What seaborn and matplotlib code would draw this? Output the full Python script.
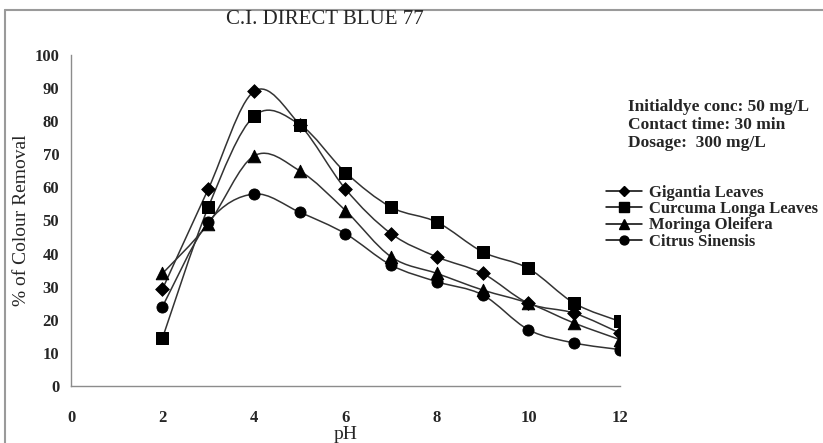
import numpy as np
import pandas as pd
import matplotlib
matplotlib.use("Agg")
import matplotlib.pyplot as plt
from matplotlib.path import Path
from matplotlib.patches import PathPatch
from matplotlib.lines import Line2D
import seaborn as sns

# data
ph = [2, 3, 4, 5, 6, 7, 8, 9, 10, 11, 12]
gigantia = [29.3, 59.5, 89.0, 79.0, 59.5, 46.0, 39.0, 34.0, 25.0, 22.0, 16.0]
curcuma = [14.5, 54.0, 81.5, 79.0, 64.5, 54.0, 49.5, 40.5, 35.5, 25.0, 19.5]
moringa = [34.0, 49.0, 69.5, 65.0, 53.0, 39.0, 34.0, 29.0, 25.0, 19.0, 14.0]
citrus = [24.0, 49.5, 58.0, 52.5, 46.0, 36.5, 31.5, 27.5, 17.0, 13.0, 11.0]

series_names = ["Gigantia Leaves", "Curcuma Longa Leaves", "Moringa Oleifera", "Citrus Sinensis"]
series_vals = [gigantia, curcuma, moringa, citrus]
markers = ["D", "s", "^", "o"]
msizes = [7, 9, 9, 8]

df = pd.concat([pd.DataFrame({"pH": ph, "Removal": v, "Adsorbent": n})
                for n, v in zip(series_names, series_vals)], ignore_index=True)

sns.set_theme(style="white")
plt.rcParams["font.family"] = ["Liberation Serif", "DejaVu Serif"]

fig = plt.figure(figsize=(8.23, 4.43), dpi=100)
ax = fig.add_axes([71 / 823, 1 - 386 / 443, (620 - 71) / 823, (386 - 55) / 443])


def smooth_path(x, y):
    # Excel-like smoothed line: cubic Bezier segments through the data points
    x = np.asarray(x, float)
    y = np.asarray(y, float)
    n = len(x)
    verts = [(x[0], y[0])]
    codes = [Path.MOVETO]
    for i in range(n - 1):
        p0 = i - 1 if i > 0 else i
        p3 = i + 2 if i + 2 < n else i + 1
        c1 = (x[i] + (x[i + 1] - x[p0]) / 6, y[i] + (y[i + 1] - y[p0]) / 6)
        c2 = (x[i + 1] - (x[p3] - x[i]) / 6, y[i + 1] - (y[p3] - y[i]) / 6)
        verts += [c1, c2, (x[i + 1], y[i + 1])]
        codes += [Path.CURVE4] * 3
    return Path(verts, codes)


for name, m, ms in zip(series_names, markers, msizes):
    sub = df[df["Adsorbent"] == name]
    ax.add_patch(PathPatch(smooth_path(sub["pH"], sub["Removal"]), facecolor="none",
                           edgecolor="#333333", lw=1.1, zorder=2))
    sns.scatterplot(data=sub, x="pH", y="Removal", marker=m, s=ms ** 2, color="black",
                    edgecolor="black", ax=ax, zorder=3, legend=False)

ax.set_xlim(0, 12)
ax.set_ylim(0, 100)
ax.set_xticks(range(0, 13, 2))
ax.set_yticks(range(0, 101, 10))
for s in ["top", "right"]:
    ax.spines[s].set_visible(False)
for s in ["left", "bottom"]:
    ax.spines[s].set_color("#8c8c8c")
    ax.spines[s].set_linewidth(1.0)
ax.tick_params(axis="both", which="major", direction="out", length=5, width=1,
               color="#8c8c8c", labelsize=12)
ax.tick_params(axis="x", pad=12)
for lab in ax.get_xticklabels() + ax.get_yticklabels():
    lab.set_fontweight("bold")

ax.set_xlabel("pH", fontsize=14, labelpad=0)
ax.set_ylabel("% of Colour Removal", fontsize=14, labelpad=3)
fig.text(325 / 823, 1 - 19 / 443, "C.I. DIRECT BLUE 77", ha="center", va="center",
         fontsize=15)

fig.text(628 / 823, 1 - 125 / 443,
         "Initialdye conc: 50 mg/L\nContact time: 30 min\nDosage:  300 mg/L",
         ha="left", va="center", fontsize=12.5, fontweight="bold", linespacing=1.2)

handles = [Line2D([], [], color="black", lw=1.1, marker=m, markersize=ms * 0.8)
           for m, ms in zip(markers, msizes)]
fig.legend(handles, series_names, loc="upper left", bbox_to_anchor=(599 / 823, 1 - 178 / 443),
           frameon=False, prop={"weight": "bold", "size": 12}, handlelength=2.2,
           handletextpad=0.4, labelspacing=0.02, borderaxespad=0)

# grey frame around the chart (top and left edges)
fig.add_artist(Line2D([5 / 823, 1], [1 - 10 / 443] * 2, transform=fig.transFigure,
                      color="#9a9a9a", lw=1.5))
fig.add_artist(Line2D([5 / 823] * 2, [0, 1 - 10 / 443], transform=fig.transFigure,
                      color="#9a9a9a", lw=1.5))

fig.savefig("out.png", dpi=100)
